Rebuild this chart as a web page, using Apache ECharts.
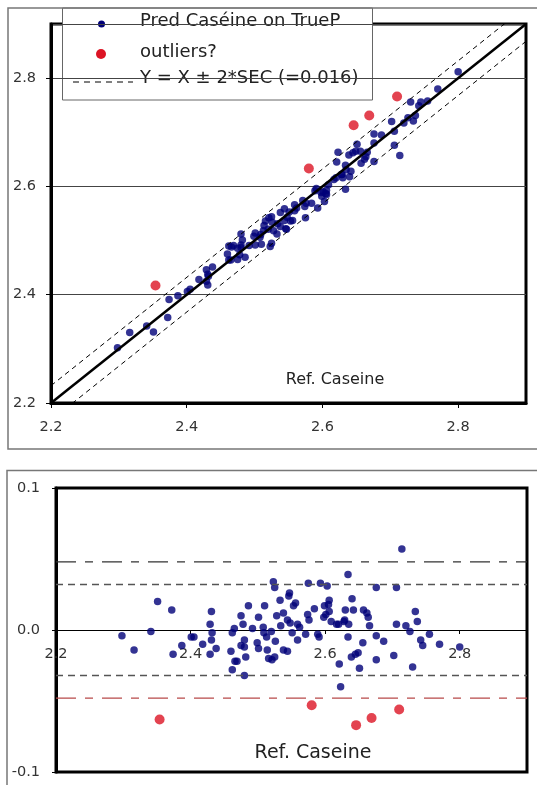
<!DOCTYPE html>
<html>
<head>
<meta charset="utf-8">
<title>Pred Caséine on TrueP</title>
<script src="https://cdn.jsdelivr.net/npm/echarts@6/dist/echarts.min.js"></script>
<style>
  html, body { margin: 0; padding: 0; background: #fff; }
  #main { width: 537px; height: 785px; }
</style>
</head>
<body>
<div id="main"></div>
<script>
// Ref. Caseine values and residuals (Ref - Pred)
const refCaseine = [
  2.298, 2.316, 2.341, 2.351, 2.372, 2.374, 2.387, 2.401, 2.405, 2.418,
  2.429, 2.429, 2.431, 2.431, 2.432, 2.438, 2.460, 2.462, 2.462, 2.465,
  2.466, 2.469, 2.475, 2.475, 2.478, 2.480, 2.480, 2.480, 2.482, 2.486,
  2.492, 2.499, 2.501, 2.501, 2.508, 2.509, 2.510, 2.513, 2.514, 2.516,
  2.520, 2.521, 2.523, 2.525, 2.525, 2.526, 2.528, 2.533, 2.534, 2.538,
  2.538, 2.544, 2.544, 2.546, 2.547, 2.548, 2.551, 2.553, 2.556, 2.559,
  2.559, 2.562, 2.571, 2.574, 2.575, 2.576, 2.584, 2.589, 2.591, 2.593,
  2.598, 2.599, 2.601, 2.603, 2.605, 2.606, 2.606, 2.609, 2.617, 2.620,
  2.621, 2.623, 2.628, 2.629, 2.630, 2.634, 2.634, 2.635, 2.639, 2.640,
  2.642, 2.645, 2.649, 2.651, 2.656, 2.657, 2.662, 2.664, 2.666, 2.676,
  2.676, 2.676, 2.687, 2.702, 2.706, 2.706, 2.714, 2.720, 2.726, 2.730,
  2.734, 2.737, 2.742, 2.745, 2.755, 2.770, 2.800
];
const refMinusPred = [
  -0.004, -0.014, -0.001, 0.020, 0.014, -0.017, -0.011, -0.005, -0.005, -0.010,
  0.004, -0.017, 0.013, -0.007, -0.002, -0.013, -0.015, -0.002, -0.028, 0.001,
  -0.022, -0.022, 0.010, -0.011, 0.004, -0.007, -0.012, -0.032, -0.019, 0.017,
  0.001, -0.009, 0.009, -0.013, 0.002, -0.002, 0.017, -0.005, -0.014, -0.020,
  -0.001, -0.021, 0.034, 0.030, -0.019, -0.008, 0.010, 0.021, 0.003, 0.012,
  -0.014, 0.007, -0.015, 0.024, 0.026, 0.005, -0.002, 0.017, 0.019, -0.007,
  0.004, 0.002, -0.003, 0.011, 0.033, 0.007, 0.015, -0.003, -0.005, 0.033,
  0.009, 0.017, 0.011, 0.031, 0.018, 0.021, 0.013, 0.006, 0.004, 0.004,
  -0.024, -0.040, 0.006, 0.007, 0.014, 0.039, -0.005, 0.004, -0.019, 0.022,
  0.014, -0.017, -0.016, -0.027, -0.009, 0.014, 0.012, 0.009, 0.003, 0.030,
  -0.004, -0.021, -0.008, -0.018, 0.030, 0.004, 0.057, 0.003, -0.001, -0.026,
  0.013, 0.006, -0.007, -0.011, -0.003, -0.010, -0.012
];
const outlierRef = [2.354, 2.580, 2.646, 2.669, 2.710];
const outlierRefMinusPred = [-0.063, -0.053, -0.067, -0.062, -0.056];

const axisRange = [2.2, 2.9];
const residRange = [-0.1, 0.1];
const sec = 0.016;

const FONT = 'DejaVu Sans';
const BLUE = '#000078';
const RED = '#dc1424';

const pred = (x, r) => +(x - r).toFixed(3);
const mainTop = refCaseine.map((x, i) => [x, pred(x, refMinusPred[i])]);
const outTop = outlierRef.map((x, i) => [x, pred(x, outlierRefMinusPred[i])]);
const mainBottom = refCaseine.map((x, i) => [x, refMinusPred[i]]);
const outBottom = outlierRef.map((x, i) => [x, outlierRefMinusPred[i]]);

const fmt1 = (v) => Number(v).toFixed(1);
const labelStyle = { fontFamily: FONT, fontSize: 14.5, color: '#333' };

const chart = echarts.init(document.getElementById('main'), null, { renderer: 'canvas' });

chart.setOption({
  animation: false,
  backgroundColor: '#fff',
  grid: [
    { left: 51, top: 24, width: 475, height: 379, show: true, borderColor: '#000', borderWidth: 3 },
    { left: 56, top: 488, width: 471, height: 284, show: true, borderColor: '#000', borderWidth: 3 }
  ],
  xAxis: [
    {
      gridIndex: 0, type: 'value', min: axisRange[0], max: axisRange[1], interval: 0.2,
      axisLine: { lineStyle: { color: '#000', width: 3 } },
      axisTick: { show: true, length: 5, lineStyle: { color: '#000' } },
      axisLabel: Object.assign({ margin: 17, formatter: fmt1, showMaxLabel: false }, labelStyle),
      splitLine: { show: false }
    },
    {
      // sits on the zero level of the residual axis (half the grid height up)
      gridIndex: 1, type: 'value', min: axisRange[0], max: axisRange[1], interval: 0.2,
      position: 'bottom', offset: -142,
      axisLine: { onZero: false, lineStyle: { color: '#000', width: 1 } },
      axisTick: { show: true, length: 4, lineStyle: { color: '#000' } },
      axisLabel: Object.assign({ margin: 17, formatter: fmt1, showMaxLabel: false }, labelStyle),
      splitLine: { show: false }
    }
  ],
  yAxis: [
    {
      gridIndex: 0, type: 'value', min: axisRange[0], max: axisRange[1], interval: 0.2,
      axisLine: { show: true, lineStyle: { color: '#000', width: 3 } },
      axisTick: { show: true, length: 5, lineStyle: { color: '#000' } },
      axisLabel: Object.assign({ margin: 15, formatter: fmt1, showMaxLabel: false }, labelStyle),
      splitLine: { show: true, lineStyle: { color: '#444', width: 1 } }
    },
    {
      gridIndex: 1, type: 'value', min: residRange[0], max: residRange[1], interval: 0.1,
      axisLine: { show: true, onZero: false, lineStyle: { color: '#000', width: 3 } },
      axisTick: { show: true, length: 4, lineStyle: { color: '#000' } },
      axisLabel: Object.assign({ margin: 16, formatter: fmt1 }, labelStyle),
      splitLine: { show: false }
    }
  ],
  series: [
    // top: Y = X +/- 2*SEC
    {
      name: 'Y = X ± 2*SEC (=0.016)', type: 'line', xAxisIndex: 0, yAxisIndex: 0,
      data: axisRange.map((v) => [v, v + 2 * sec]), symbol: 'none', silent: true,
      lineStyle: { color: '#000', width: 1, type: [5, 4] }
    },
    {
      name: 'Y = X - 2*SEC', type: 'line', xAxisIndex: 0, yAxisIndex: 0,
      data: axisRange.map((v) => [v, v - 2 * sec]), symbol: 'none', silent: true,
      lineStyle: { color: '#000', width: 1, type: [5, 4] }
    },
    {
      name: 'Y = X', type: 'line', xAxisIndex: 0, yAxisIndex: 0,
      data: axisRange.map((v) => [v, v]), symbol: 'none', silent: true,
      lineStyle: { color: '#000', width: 2.5 }
    },
    {
      name: 'Pred Caséine on TrueP', type: 'scatter', xAxisIndex: 0, yAxisIndex: 0,
      data: mainTop, symbolSize: 7.5, itemStyle: { color: BLUE }
    },
    {
      name: 'outliers?', type: 'scatter', xAxisIndex: 0, yAxisIndex: 0,
      data: outTop, symbolSize: 10, itemStyle: { color: RED }
    },
    // bottom: residual limits
    {
      name: '+3*SEC', type: 'line', xAxisIndex: 1, yAxisIndex: 1,
      data: axisRange.map((v) => [v, 3 * sec]), symbol: 'none', silent: true,
      lineStyle: { color: '#333', width: 1.2, type: [20, 9, 8, 9] }
    },
    {
      name: '+2*SEC', type: 'line', xAxisIndex: 1, yAxisIndex: 1,
      data: axisRange.map((v) => [v, 2 * sec]), symbol: 'none', silent: true,
      lineStyle: { color: '#555', width: 1.5, type: [7, 5] }
    },
    {
      name: '-2*SEC', type: 'line', xAxisIndex: 1, yAxisIndex: 1,
      data: axisRange.map((v) => [v, -2 * sec]), symbol: 'none', silent: true,
      lineStyle: { color: '#555', width: 1.5, type: [7, 5] }
    },
    {
      name: '-3*SEC', type: 'line', xAxisIndex: 1, yAxisIndex: 1,
      data: axisRange.map((v) => [v, -3 * sec]), symbol: 'none', silent: true,
      lineStyle: { color: '#b84a4a', width: 1.2, type: [20, 9, 8, 9] }
    },
    {
      name: 'Pred Caséine on TrueP ', type: 'scatter', xAxisIndex: 1, yAxisIndex: 1,
      data: mainBottom, symbolSize: 7.5, itemStyle: { color: BLUE }
    },
    {
      name: 'outliers? ', type: 'scatter', xAxisIndex: 1, yAxisIndex: 1,
      data: outBottom, symbolSize: 10, itemStyle: { color: RED }
    }
  ],
  graphic: [
    // outer frames
    { type: 'rect', z: 1, shape: { x: 8, y: 8, width: 560, height: 441 },
      style: { fill: 'none', stroke: '#777', lineWidth: 1.5 } },
    { type: 'rect', z: 1, shape: { x: 7, y: 470.5, width: 560, height: 340 },
      style: { fill: 'none', stroke: '#777', lineWidth: 1.5 } },
    // axis titles
    { type: 'text', z: 50, x: 335, y: 380,
      style: { text: 'Ref. Caseine', fontFamily: FONT, fontSize: 16, fill: '#222', align: 'center', verticalAlign: 'middle' } },
    { type: 'text', z: 50, x: 313, y: 753,
      style: { text: 'Ref. Caseine', fontFamily: FONT, fontSize: 19, fill: '#222', align: 'center', verticalAlign: 'middle' } },
    // legend
    {
      type: 'group', z: 100,
      children: [
        { type: 'rect', shape: { x: 62.5, y: 8, width: 310, height: 92 },
          style: { fill: '#fff', stroke: '#666', lineWidth: 1 } },
        { type: 'circle', shape: { cx: 101.5, cy: 24, r: 3.5 }, style: { fill: BLUE } },
        { type: 'circle', shape: { cx: 101, cy: 54, r: 5 }, style: { fill: RED } },
        { type: 'line', shape: { x1: 73, y1: 82, x2: 133, y2: 82 },
          style: { stroke: '#000', lineWidth: 1, lineDash: [6, 5] } },
        { type: 'text', x: 140, y: 21,
          style: { text: 'Pred Caséine on TrueP', fontFamily: FONT, fontSize: 18, fill: '#222', verticalAlign: 'middle' } },
        { type: 'text', x: 140, y: 52,
          style: { text: 'outliers?', fontFamily: FONT, fontSize: 18, fill: '#222', verticalAlign: 'middle' } },
        { type: 'text', x: 140, y: 78,
          style: { text: 'Y = X ± 2*SEC (=0.016)', fontFamily: FONT, fontSize: 18, fill: '#222', verticalAlign: 'middle' } }
      ]
    }
  ]
});
</script>
</body>
</html>
